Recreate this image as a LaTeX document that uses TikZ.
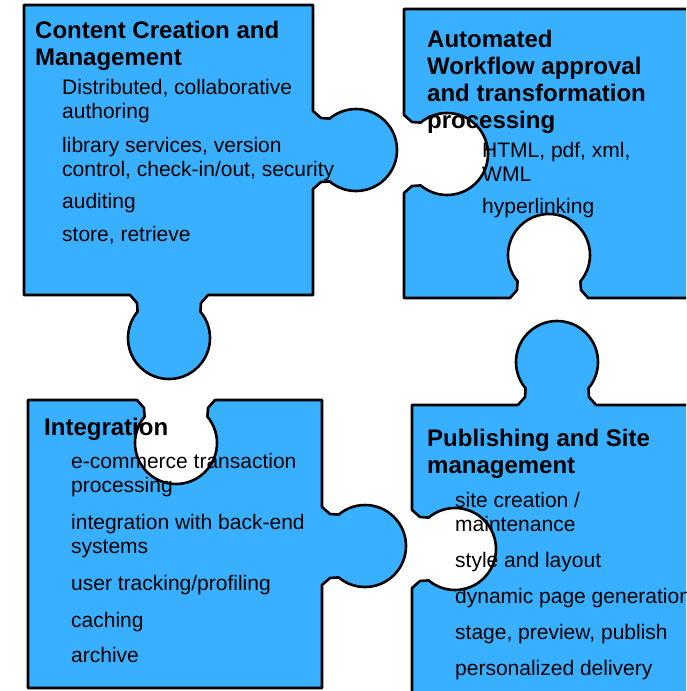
\documentclass[tikz,border=0pt]{standalone}
\usepackage{fontspec}
\setmainfont{Liberation Sans}
\usepackage{tikz}
\usetikzlibrary{calc}
\definecolor{puzzleblue}{RGB}{56,176,255}
\tikzset{
  piece/.style={draw=black, line width=2.6pt, line join=round, fill=puzzleblue},
}
% knob going out of an edge / hole cut into an edge: base point, outward angle
\newcommand\knobout[2]{-- ($(#1)+(#2+90:-39)$) -- ($(#1)+(#2+90:-32)+(#2:8)$) -- ($(#1)+(#2:43)+(#2+230:41)$)
  arc[start angle=#2+230, end angle=#2+490, radius=41] -- ($(#1)+(#2+90:32)+(#2:8)$) -- ($(#1)+(#2+90:39)$)}
\newcommand\knobin[2]{-- ($(#1)+(#2+90:-39)$) -- ($(#1)+(#2+90:-32)+(#2:-8)$) -- ($(#1)+(#2:-43)+(#2+310:41)$)
  arc[start angle=#2+310, end angle=#2+50, radius=41] -- ($(#1)+(#2+90:32)+(#2:-8)$) -- ($(#1)+(#2+90:39)$)}

\begin{document}
\begin{tikzpicture}[x=1pt, y=-1pt,
  title/.style={anchor=base west, align=left, inner sep=0pt, font=\bfseries\fontsize{24}{27}\selectfont},
  item/.style={anchor=base west, align=left, inner sep=0pt, font=\fontsize{21}{23.5}\selectfont}]
  \clip (0,0) rectangle (686,691);
  \draw[piece] (24,5) -- (313,5) \knobout{313,150}{0} -- (313,295) \knobout{169,295}{90} -- (24,295) -- cycle;
  \draw[piece] (404,9) -- (700,9) -- (700,298) \knobin{549,298}{90} -- (404,298) \knobin{404,154}{180} -- cycle;
  \draw[piece] (28,400) \knobin{176,400}{270} -- (322,400) \knobout{322,546}{0} -- (322,688) -- (28,688) -- cycle;
  \draw[piece] (412,405) \knobout{557,405}{270} -- (700,405) -- (700,700) -- (412,700) \knobin{412,549}{180} -- cycle;
  % multi-line nodes: base is the last line
  \node[title] (tcreate) at (35,65) {Content Creation and\\Management};
  \node[item] (c1) at (62,118) {Distributed, collaborative\\authoring};
  \node[item] (c2) at (62,176) {library services, version\\control, check-in/out, security};
  \node[item] (c3) at (62,208) {auditing};
  \node[item] (c4) at (62,241) {store, retrieve};
  \node[title] (tflow) at (427,128) {Automated\\Workflow approval\\and transformation\\processing};
  \node[item] (w1) at (482,181) {HTML, pdf, xml,\\WML};
  \node[item] (w2) at (482,213) {hyperlinking};
  \node[title] (tint) at (44,435) {Integration};
  \node[item] (i1) at (71,492) {e-commerce transaction\\processing};
  \node[item] (i2) at (71,553) {integration with back-end\\systems};
  \node[item] (i3) at (71,590) {user tracking/profiling};
  \node[item] (i4) at (71,627) {caching};
  \node[item] (i5) at (71,662) {archive};
  \node[title] (tpub) at (427,473) {Publishing and Site\\management};
  \node[item] (p1) at (455,531) {site creation /\\maintenance};
  \node[item] (p2) at (455,567) {style and layout};
  \node[item] (p3) at (455,603) {dynamic page generation};
  \node[item] (p4) at (455,639) {stage, preview, publish};
  \node[item] (p5) at (455,675) {personalized delivery};
\end{tikzpicture}
\end{document}
